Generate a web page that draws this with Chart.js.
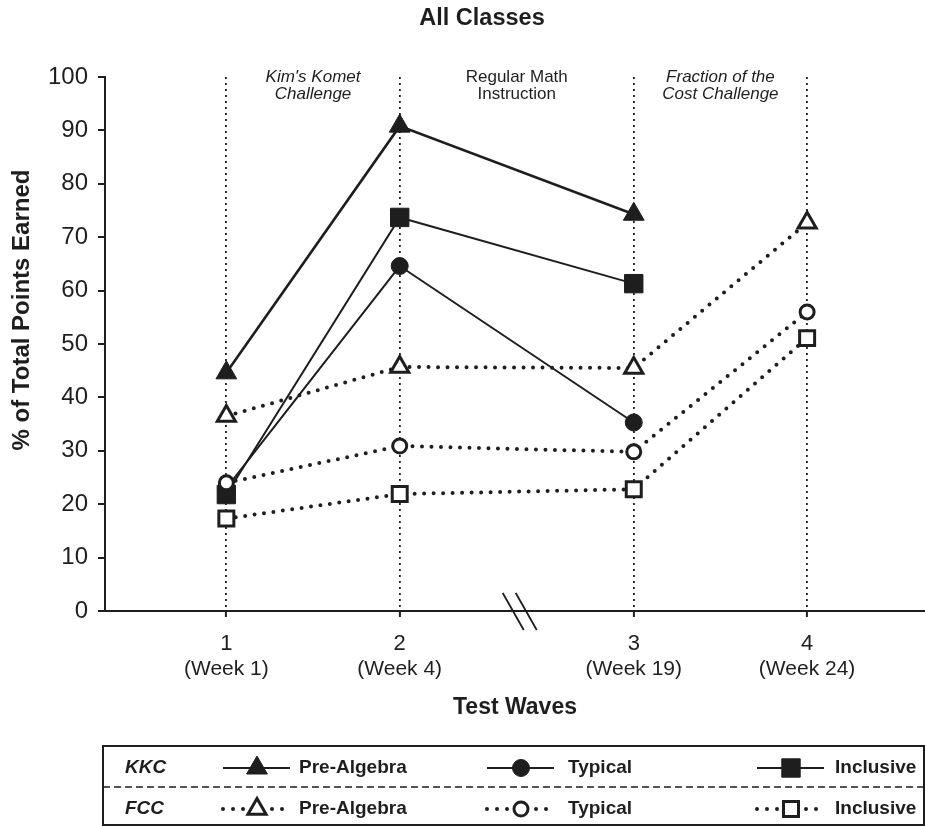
<!DOCTYPE html>
<html>
<head>
<meta charset="utf-8">
<script src="https://cdn.jsdelivr.net/npm/chart.js"></script>
<style>
  html, body { margin: 0; padding: 0; background: #fff; }
  #chart { display: block; }
</style>
</head>
<body>
<canvas id="chart" width="925" height="826"></canvas>
<script>
// Test waves (the axis is broken between wave 2 and wave 3)
const waveLabels = ['1', '2', '3', '4'];
const weekLabels = ['(Week 1)', '(Week 4)', '(Week 19)', '(Week 24)'];
const wavePositions = [1, 2, 3.35, 4.35];
const yTicks = [0, 10, 20, 30, 40, 50, 60, 70, 80, 90, 100];

// Phases between the waves
const phaseLabels = [["Kim's Komet", 'Challenge'], ['Regular Math', 'Instruction'], ['Fraction of the', 'Cost Challenge']];
const phaseItalic = [true, false, true];

// % of total points earned
const kkcPreAlgebra = [44.6, 90.8, 74.3, null];
const kkcTypical = [23, 64.6, 35.3, null];
const kkcInclusive = [21.8, 73.7, 61.3, null];
const fccPreAlgebra = [36.5, 45.7, 45.5, 72.7];
const fccTypical = [24, 30.9, 29.8, 56];
const fccInclusive = [17.3, 21.9, 22.8, 51.1];

const INK = '#1e1e1e';
const FONT = "'Liberation Sans', Arial, sans-serif";

function points(values) {
  return values.map((v, i) => ({ x: wavePositions[i], y: v }));
}

// сплошные линии - KKC, пунктир - FCC
function kkc(name, values, style, radius, width) {
  return {
    group: 'KKC', series: name,
    data: points(values),
    borderColor: INK, backgroundColor: INK,
    borderWidth: width || 2,
    pointStyle: style, pointRadius: radius,
    pointBackgroundColor: INK, pointBorderColor: INK, pointBorderWidth: 1,
    tension: 0
  };
}

function fcc(name, values, style, radius) {
  return {
    group: 'FCC', series: name,
    data: points(values),
    borderColor: INK, backgroundColor: '#fff',
    borderWidth: 4, borderDash: [0, 9.5], borderCapStyle: 'round',
    pointStyle: style, pointRadius: radius,
    pointBackgroundColor: '#fff', pointBorderColor: INK, pointBorderWidth: 3,
    tension: 0
  };
}

// FCC first so its hollow markers sit on top
const datasets = [
  fcc('Pre-Algebra', fccPreAlgebra, 'triangle', 10.5),
  fcc('Typical', fccTypical, 'circle', 7),
  fcc('Inclusive', fccInclusive, 'rect', 10.6),
  kkc('Pre-Algebra', kkcPreAlgebra, 'triangle', 12, 2.6),
  kkc('Typical', kkcTypical, 'circle', 8.5),
  kkc('Inclusive', kkcInclusive, 'rect', 13)
];

function marker(ctx, ds, x, y) {
  const opts = {
    pointStyle: ds.pointStyle, radius: ds.pointRadius, rotation: 0,
    borderWidth: ds.pointBorderWidth
  };
  ctx.fillStyle = ds.pointBackgroundColor;
  ctx.strokeStyle = ds.pointBorderColor;
  ctx.lineWidth = ds.pointBorderWidth;
  ctx.setLineDash([]);
  Chart.helpers.drawPoint(ctx, opts, x, y);
}

const decorations = {
  id: 'decorations',
  afterDraw(chart) {
    const { ctx, scales: { x, y } } = chart;
    const px = wavePositions.map(v => x.getPixelForValue(v));
    ctx.save();
    ctx.fillStyle = INK;
    ctx.textAlign = 'center';
    ctx.textBaseline = 'middle';

    // title
    ctx.font = 'bold 23.5px ' + FONT;
    ctx.fillText('All Classes', 482, 19);

    // phase notes between the dotted lines
    phaseLabels.forEach((lines, i) => {
      const cx = (px[i] + px[i + 1]) / 2;
      ctx.font = (phaseItalic[i] ? 'italic ' : '') + '17px ' + FONT;
      lines.forEach((t, j) => ctx.fillText(t, cx, 77 + j * 17));
    });

    // week labels under wave numbers
    ctx.font = '21px ' + FONT;
    weekLabels.forEach((t, i) => ctx.fillText(t, px[i], 669));

    // axis titles
    ctx.font = 'bold 23px ' + FONT;
    ctx.fillText('Test Waves', (x.left + x.right) / 2, 708);
    ctx.save();
    ctx.translate(22, 310);
    ctx.rotate(-Math.PI / 2);
    ctx.font = 'bold 24px ' + FONT;
    ctx.fillText('% of Total Points Earned', 0, 0);
    ctx.restore();

    // axis break
    const mid = (px[1] + px[2]) / 2;
    ctx.strokeStyle = INK;
    ctx.lineWidth = 1.8;
    ctx.beginPath();
    ctx.moveTo(mid - 14, y.bottom - 18); ctx.lineTo(mid + 7, y.bottom + 19);
    ctx.moveTo(mid - 1, y.bottom - 18); ctx.lineTo(mid + 20, y.bottom + 19);
    ctx.stroke();

    // legend box
    const box = { left: 103, top: 746, right: 924, bottom: 825 };
    ctx.lineWidth = 2;
    ctx.strokeRect(box.left, box.top, box.right - box.left, box.bottom - box.top);
    ctx.lineWidth = 1.6;
    ctx.setLineDash([7, 4]);
    ctx.beginPath();
    ctx.moveTo(box.left, 787); ctx.lineTo(box.right, 787);
    ctx.stroke();
    ctx.setLineDash([]);

    const rows = { KKC: 768, FCC: 809 };
    const cols = { 'Pre-Algebra': [257, 299], 'Typical': [521, 568], 'Inclusive': [791, 835] };
    ctx.textAlign = 'left';
    Object.keys(rows).forEach(g => {
      ctx.font = 'italic bold 19px ' + FONT;
      ctx.fillStyle = INK;
      ctx.fillText(g, 125, rows[g]);
    });
    chart.data.datasets.forEach(ds => {
      const ry = rows[ds.group];
      const [mx, tx] = cols[ds.series];
      ctx.strokeStyle = INK;
      ctx.fillStyle = INK;
      if (ds.group === 'KKC') {
        ctx.lineWidth = 2;
        ctx.beginPath();
        ctx.moveTo(mx - 34, ry); ctx.lineTo(mx + 33, ry);
        ctx.stroke();
      } else {
        [-34, -24, -14, 15, 25].forEach(d => {
          ctx.beginPath();
          ctx.arc(mx + d, ry, 2, 0, Math.PI * 2);
          ctx.fill();
        });
      }
      marker(ctx, ds, mx, ry);
      ctx.fillStyle = INK;
      ctx.font = 'bold 19px ' + FONT;
      ctx.fillText(ds.series, tx, ry);
    });
    ctx.restore();
  }
};

new Chart(document.getElementById('chart'), {
  type: 'line',
  data: { datasets: datasets },
  options: {
    responsive: false,
    animation: false,
    devicePixelRatio: 1,
    layout: { autoPadding: false, padding: { top: 77, right: 0, bottom: 0, left: 0 } },
    plugins: {
      legend: { display: false },
      title: { display: false },
      tooltip: { enabled: false }
    },
    scales: {
      x: {
        type: 'linear',
        min: 0.3,
        max: 5.03,
        afterBuildTicks: scale => {
          scale.ticks = wavePositions.map(v => ({ value: v }));
        },
        afterFit: scale => { scale.height = 215; },
        ticks: {
          autoSkip: false,
          maxRotation: 0,
          padding: 14,
          color: INK,
          font: { family: FONT, size: 22 },
          callback: v => waveLabels[wavePositions.indexOf(v)]
        },
        grid: {
          drawOnChartArea: true,
          color: INK,
          lineWidth: 1.8,
          tickBorderDash: [],
          tickLength: 6,
          tickWidth: 2,
          tickColor: INK
        },
        border: { display: true, color: INK, width: 2, dash: [2, 4] }
      },
      y: {
        min: 0,
        max: 100,
        afterBuildTicks: scale => {
          scale.ticks = yTicks.map(v => ({ value: v }));
        },
        afterFit: scale => { scale.width = 105; },
        ticks: {
          padding: 10,
          color: INK,
          font: { family: FONT, size: 24 }
        },
        grid: {
          drawOnChartArea: false,
          color: INK,
          lineWidth: 2,
          tickLength: 7
        },
        border: { display: true, color: INK, width: 2 }
      }
    }
  },
  plugins: [decorations]
});
</script>
</body>
</html>
